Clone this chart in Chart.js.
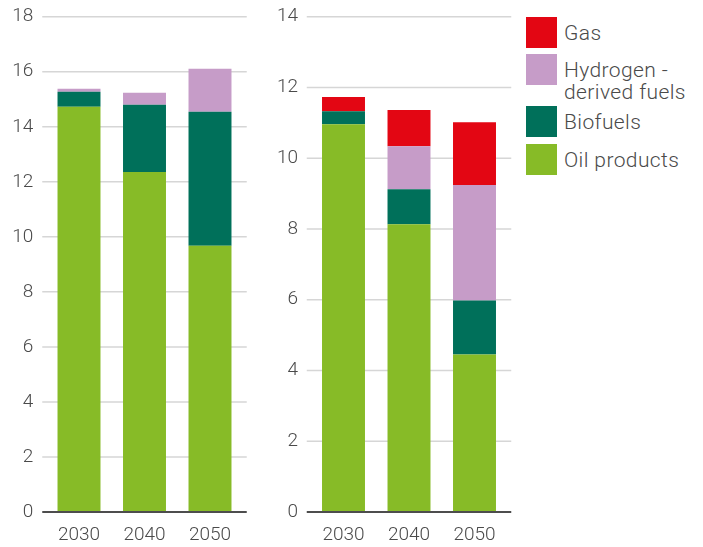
<!DOCTYPE html>
<html>
<head>
<meta charset="utf-8">
<script src="https://cdn.jsdelivr.net/npm/chart.js@4"></script>
<style>
  html, body { margin: 0; padding: 0; background: #fff; }
  body { width: 703px; height: 547px; position: relative; overflow: hidden; font-family: Roboto, "Noto Sans", sans-serif; font-weight: 300; }
  #c1 { position: absolute; left: 0; top: 0; }
  #c2 { position: absolute; left: 265px; top: 0; }
  .sw { position: absolute; left: 526px; width: 31px; height: 31px; }
  .lt { position: absolute; left: 564px; font-size: 21px; letter-spacing: 0.4px; line-height: 22px; color: #4a4a4a; white-space: nowrap; }
</style>
</head>
<body>
<canvas id="c1" width="260" height="547"></canvas>
<canvas id="c2" width="260" height="547"></canvas>
<div id="legend"></div>
<script>
// ---- data ----
const categories = ["2030", "2040", "2050"];
// left chart
const leftOil = [14.73, 12.36, 9.68];
const leftBio = [0.54, 2.44, 4.87];
const leftHydrogen = [0.11, 0.44, 1.56];
const leftTicks = [0, 2, 4, 6, 8, 10, 12, 14, 16, 18];
// right chart
const rightOil = [10.96, 8.13, 4.45];
const rightBio = [0.37, 0.99, 1.53];
const rightHydrogen = [0, 1.22, 3.26];
const rightGas = [0.40, 1.02, 1.78];
const rightTicks = [0, 2, 4, 6, 8, 10, 12, 14];
// legend
const seriesNames = ["Gas", "Hydrogen -\nderived fuels", "Biofuels", "Oil products"];

const COL = { gas: "#e30613", h2: "#c69cc8", bio: "#00705a", oil: "#87bb27" };
const TXT = "#4a4a4a";
const FONT = { family: "Roboto, 'Noto Sans', sans-serif", size: 19, weight: 300 };

const gridPlugin = {
  id: "customGrid",
  beforeDatasetsDraw(chart) {
    const { ctx, chartArea, scales } = chart;
    const y = scales.y;
    ctx.save();
    ctx.strokeStyle = "#d6d6d6";
    ctx.lineWidth = 1.5;
    y.ticks.forEach(t => {
      if (t.value === 0) return;
      const py = y.getPixelForValue(t.value);
      ctx.beginPath();
      ctx.moveTo(chartArea.left - 4, py);
      ctx.lineTo(chartArea.right + 4, py);
      ctx.stroke();
    });
    ctx.restore();
  },
  afterDatasetsDraw(chart) {
    const { ctx, chartArea, scales } = chart;
    const py = scales.y.getPixelForValue(0);
    ctx.save();
    ctx.strokeStyle = "#4d4d4d";
    ctx.lineWidth = 2;
    ctx.beginPath();
    ctx.moveTo(chartArea.left - 4, py);
    ctx.lineTo(chartArea.right + 4, py);
    ctx.stroke();
    ctx.restore();
  }
};

function makeChart(id, datasets, ticks, axisWidth, labelPad, padRight) {
  return new Chart(document.getElementById(id), {
    type: "bar",
    data: { labels: categories, datasets },
    plugins: [gridPlugin],
    options: {
      responsive: false,
      animation: false,
      layout: { padding: { top: 16.7, right: padRight, bottom: 0, left: 0 } },
      plugins: { legend: { display: false }, tooltip: { enabled: false } },
      datasets: { bar: { categoryPercentage: 1, barPercentage: 0.656, borderWidth: 0 } },
      scales: {
        x: {
          stacked: true,
          grid: { display: false, drawTicks: false },
          border: { display: false },
          ticks: { color: TXT, font: FONT, padding: 12, maxRotation: 0 },
          afterFit(s) { s.height = 35; s.paddingLeft = 0; s.paddingRight = 0; }
        },
        y: {
          stacked: true,
          min: ticks[0],
          max: ticks[ticks.length - 1],
          grid: { display: false, drawTicks: false },
          border: { display: false },
          afterBuildTicks(s) { s.ticks = ticks.map(v => ({ value: v })); },
          ticks: { color: TXT, font: FONT, padding: labelPad },
          afterFit(s) { s.width = axisWidth; s.paddingTop = 0; s.paddingBottom = 0; }
        }
      }
    }
  });
}

makeChart("c1", [
  { label: "Oil products", data: leftOil, backgroundColor: COL.oil },
  { label: "Biofuels", data: leftBio, backgroundColor: COL.bio },
  { label: "Hydrogen - derived fuels", data: leftHydrogen, backgroundColor: COL.h2 }
], leftTicks, 46.25, 13, 17.25);

makeChart("c2", [
  { label: "Oil products", data: rightOil, backgroundColor: COL.oil },
  { label: "Biofuels", data: rightBio, backgroundColor: COL.bio },
  { label: "Hydrogen - derived fuels", data: rightHydrogen, backgroundColor: COL.h2 },
  { label: "Gas", data: rightGas, backgroundColor: COL.gas }
], rightTicks, 45.75, 12.75, 17.75);

// legend
const legendCols = [COL.gas, COL.h2, COL.bio, COL.oil];
const swatchTops = [17, 54, 106, 144];
const textTops = [21.7, 58.7, 110.7, 148.7];
const lg = document.getElementById("legend");
seriesNames.forEach((name, i) => {
  const sw = document.createElement("div");
  sw.className = "sw";
  sw.style.top = swatchTops[i] + "px";
  sw.style.background = legendCols[i];
  lg.appendChild(sw);
  const t = document.createElement("div");
  t.className = "lt";
  t.style.top = textTops[i] + "px";
  t.innerHTML = name.split("\n").join("<br>");
  lg.appendChild(t);
});
</script>
</body>
</html>
